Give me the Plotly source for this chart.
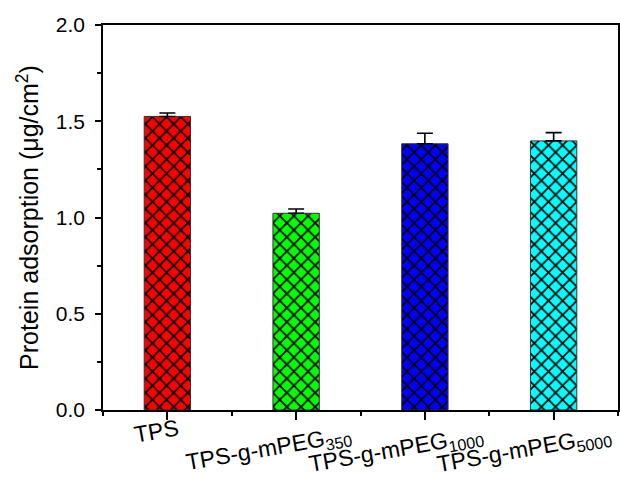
import plotly.graph_objects as go

categories = ["TPS", "TPS-g-mPEG<sub>350</sub>", "TPS-g-mPEG<sub>1000</sub>", "TPS-g-mPEG<sub>5000</sub>"]
values = [1.525, 1.022, 1.383, 1.398]
errors = [0.018, 0.022, 0.055, 0.043]
colors = ["#FF0000", "#00FF00", "#0000FF", "#00FFFF"]
y_ticks = [0.0, 0.5, 1.0, 1.5, 2.0]
y_ticklabels = ["0.0", "0.5", "1.0", "1.5", "2.0"]

xpos = list(range(len(categories)))
font = "Arial, Liberation Sans, sans-serif"
FS = 21
XFS = 23

# rough Arial width estimate (em) to place rotated labels like the original
W = {"T": .611, "P": .667, "S": .667, "-": .333, "g": .556, "m": .833, "E": .667, "G": .778,
     "0": .556, "1": .556, "3": .556, "5": .556}


def est_width(label):
    main, _, rest = label.partition("<sub>")
    sub = rest.replace("</sub>", "")
    return XFS * (sum(W.get(c, .55) for c in main) + 0.7 * sum(W.get(c, .55) for c in sub))


fig = go.Figure()
for i in range(len(categories)):
    fig.add_trace(go.Bar(
        x=[xpos[i]], y=[values[i]], width=0.36,
        marker=dict(
            color=colors[i],
            line=dict(color="#333333", width=1),
            pattern=dict(shape="x", fgcolor="black", bgcolor=colors[i], fgopacity=1,
                         size=10, solidity=0.32, fillmode="replace"),
        ),
        error_y=dict(type="data", symmetric=False, array=[errors[i]], arrayminus=[0],
                     color="black", thickness=1.6, width=8),
        showlegend=False,
    ))

for i, lab in enumerate(categories):
    w = est_width(lab)
    fig.add_annotation(
        x=xpos[i], xref="x", y=0, yref="paper", text=lab, showarrow=False,
        textangle=-10, xanchor="center", yanchor="middle",
        xshift=-4 - 0.143 * w, yshift=-21 - 0.15 * (w - 46),
        font=dict(size=XFS, family=font, color="black"),
    )

fig.update_layout(
    width=620, height=477,
    margin=dict(l=103, r=2, t=25, b=67),
    paper_bgcolor="white", plot_bgcolor="white",
    font=dict(family=font, size=FS, color="black"),
    barmode="overlay",
)
fig.update_xaxes(
    range=[-0.5, 3.5], tickmode="array", tickvals=xpos, ticktext=[""] * len(xpos), showticklabels=False,
    ticks="outside", ticklen=8, tickwidth=1.5, tickcolor="black", automargin=False,
    showline=True, linecolor="black", linewidth=1.5, mirror=True, showgrid=False, zeroline=False,
    minor=dict(tickmode="array", tickvals=[-0.5, 0.5, 1.5, 2.5, 3.5], ticks="outside", ticklen=4,
               tickwidth=1.5, tickcolor="black", showgrid=False),
)
fig.update_yaxes(
    range=[0, 2.0], tickmode="array", tickvals=y_ticks, ticktext=y_ticklabels,
    ticks="outside", ticklen=6, tickwidth=1.5, tickcolor="black", automargin=False,
    ticklabelstandoff=6,
    showline=True, linecolor="black", linewidth=1.5, mirror=True, showgrid=False, zeroline=False,
    tickfont=dict(size=FS, family=font),
    minor=dict(tickmode="array", tickvals=[0.25, 0.75, 1.25, 1.75], ticks="outside", ticklen=4,
               tickwidth=1.5, tickcolor="black", showgrid=False),
    title=dict(text="Protein adsorption (μg/cm<sup>2</sup>)", font=dict(size=25, family=font), standoff=10),
)

fig.write_html("out.html", config={"displayModeBar": False},
               post_script="document.body.style.margin='0';document.body.style.overflow='hidden';")
